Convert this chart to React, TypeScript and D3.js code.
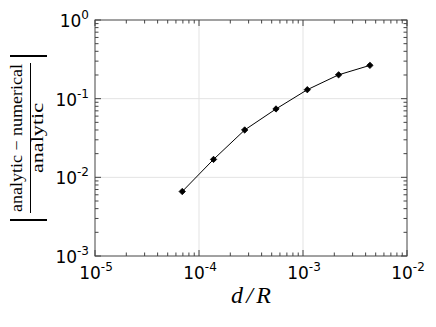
import React from 'react';
import * as d3 from 'd3';

const dOverR = [6.9e-5, 1.38e-4, 2.75e-4, 5.5e-4, 1.1e-3, 2.2e-3, 4.4e-3];
const relError = [0.0066, 0.0169, 0.04, 0.074, 0.13, 0.201, 0.265];
const xDecades = [-5, -4, -3, -2];
const yDecades = [-3, -2, -1, 0];

const W = 436;
const H = 327;
const m = { left: 95, right: 29, top: 20, bottom: 71 };

const minorTicks = (lo: number, hi: number) => {
  const out: number[] = [];
  for (let e = lo; e < hi; e++) {
    for (let k = 2; k <= 9; k++) out.push(k * Math.pow(10, e));
  }
  return out;
};

const Pow = ({ x, y, exp, anchor }: { x: number; y: number; exp: number; anchor: string }) => (
  <text x={x} y={y} textAnchor={anchor} fontFamily="DejaVu Sans" fontSize={17} fill="#000">
    10
    <tspan dy={-8} fontSize={12}>
      {exp}
    </tspan>
  </text>
);

export default function App() {
  const x = d3
    .scaleLog()
    .domain([1e-5, 1e-2])
    .range([m.left, W - m.right]);
  const y = d3
    .scaleLog()
    .domain([1e-3, 1])
    .range([H - m.bottom, m.top]);
  const [x0, x1] = x.range();
  const [y0, y1] = y.range();

  const line = d3
    .line<number>()
    .x((_, i) => x(dOverR[i]))
    .y(d => y(d));
  // matplotlib 'D' marker: a square turned 45 degrees
  const diamond = d3.symbol(d3.symbolSquare, 20)();

  const xMinor = minorTicks(-5, -2);
  const yMinor = minorTicks(-3, 0);
  const major = 6;
  const minor = 3.5;
  const frame = '#444';

  return (
    <svg width={W} height={H} style={{ position: 'absolute', left: 0, top: 0 }}>
      <rect width={W} height={H} fill="#fff" />
      {/* grid */}
      {xDecades.slice(1, -1).map(e => (
        <line key={'gx' + e} x1={x(10 ** e)} x2={x(10 ** e)} y1={y1} y2={y0} stroke="#e3e3e3" />
      ))}
      {yDecades.slice(1, -1).map(e => (
        <line key={'gy' + e} x1={x0} x2={x1} y1={y(10 ** e)} y2={y(10 ** e)} stroke="#e3e3e3" />
      ))}
      {/* ticks, pointing inward on all sides */}
      <g stroke={frame} strokeWidth={1}>
        {xDecades.map(e => (
          <g key={'tx' + e}>
            <line x1={x(10 ** e)} x2={x(10 ** e)} y1={y0} y2={y0 - major} />
            <line x1={x(10 ** e)} x2={x(10 ** e)} y1={y1} y2={y1 + major} />
          </g>
        ))}
        {xMinor.map(v => (
          <g key={'mx' + v}>
            <line x1={x(v)} x2={x(v)} y1={y0} y2={y0 - minor} />
            <line x1={x(v)} x2={x(v)} y1={y1} y2={y1 + minor} />
          </g>
        ))}
        {yDecades.map(e => (
          <g key={'ty' + e}>
            <line x1={x0} x2={x0 + major} y1={y(10 ** e)} y2={y(10 ** e)} />
            <line x1={x1} x2={x1 - major} y1={y(10 ** e)} y2={y(10 ** e)} />
          </g>
        ))}
        {yMinor.map(v => (
          <g key={'my' + v}>
            <line x1={x0} x2={x0 + minor} y1={y(v)} y2={y(v)} />
            <line x1={x1} x2={x1 - minor} y1={y(v)} y2={y(v)} />
          </g>
        ))}
      </g>
      <rect x={x0} y={y1} width={x1 - x0} height={y0 - y1} fill="none" stroke={frame} />
      {/* data */}
      <path d={line(relError) || ''} fill="none" stroke="#000" strokeWidth={1} />
      {relError.map((v, i) => (
        <path
          key={i}
          d={diamond || ''}
          transform={`translate(${x(dOverR[i])},${y(v)}) rotate(45)`}
          fill="#000"
          stroke="#000"
          strokeWidth={0.8}
        />
      ))}
      {/* tick labels */}
      {xDecades.map(e => (
        <Pow key={'lx' + e} x={x(10 ** e) + 1} y={y0 + 23} exp={e} anchor="middle" />
      ))}
      {yDecades.map(e => (
        <Pow key={'ly' + e} x={x0 - 6} y={y(10 ** e) + 7} exp={e} anchor="end" />
      ))}
      {/* axis labels */}
      <text
        x={(x0 + x1) / 2}
        y={303}
        textAnchor="middle"
        fontFamily="Liberation Serif"
        fontStyle="italic"
        fontSize={24}
        textLength={40}
        lengthAdjust="spacing"
      >
        d/R
      </text>
      <g transform={`translate(0,${(y0 + y1) / 2}) rotate(-90)`} fontFamily="Liberation Serif" fontSize={16}>
        <text x={0} y={22} textAnchor="middle" textLength={148} lengthAdjust="spacingAndGlyphs">
          analytic − numerical
        </text>
        <line x1={-75} x2={75} y1={30.5} y2={30.5} stroke="#000" strokeWidth={1} />
        <text x={0} y={43} textAnchor="middle" textLength={70} lengthAdjust="spacingAndGlyphs">
          analytic
        </text>
        <line x1={82} x2={82} y1={10} y2={47} stroke="#000" strokeWidth={2} />
        <line x1={-82} x2={-82} y1={10} y2={47} stroke="#000" strokeWidth={2} />
      </g>
    </svg>
  );
}
